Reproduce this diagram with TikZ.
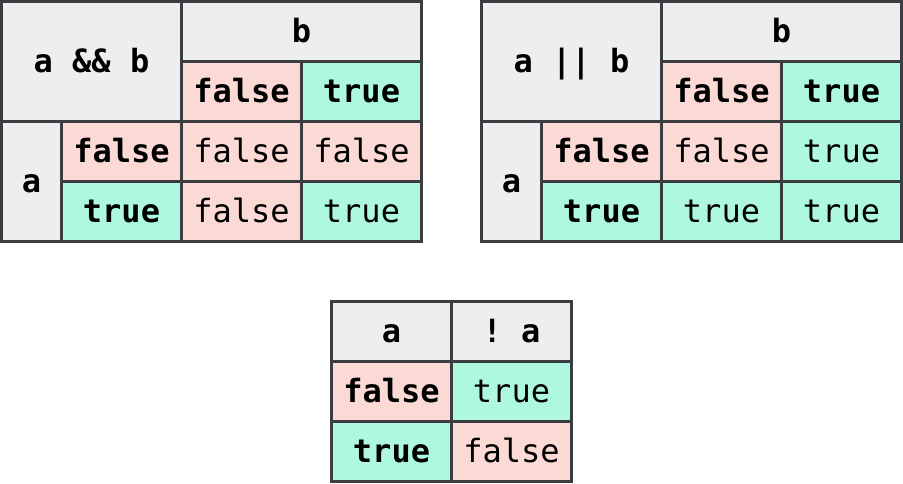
\documentclass[tikz,border=0pt]{standalone}
\usepackage{fontspec}
\setmonofont{DejaVu Sans Mono}
\definecolor{gridline}{HTML}{3B3D42}
\definecolor{hdrgrey}{HTML}{EEEEEE}
\definecolor{fpink}{HTML}{FBD9D4}
\definecolor{tmint}{HTML}{AEF8DF}
\tikzset{
  cellbox/.style={draw=gridline, line width=3pt, inner sep=0pt, outer sep=0pt,
    text height=24pt, text depth=3pt,
    anchor=north west, font=\ttfamily\fontsize{32}{38}\selectfont, text=black},
  hd/.style={cellbox, fill=hdrgrey, font=\ttfamily\bfseries\fontsize{32}{38}\selectfont},
  fb/.style={cellbox, fill=fpink, font=\ttfamily\bfseries\fontsize{32}{38}\selectfont},
  tb/.style={cellbox, fill=tmint, font=\ttfamily\bfseries\fontsize{32}{38}\selectfont},
  fv/.style={cellbox, fill=fpink},
  tv/.style={cellbox, fill=tmint}
}
\newcommand\tcell[7]{\node[#6, minimum width=#4pt, minimum height=#5pt] (#1) at (#2,#3) {#7};}
\begin{document}
\begin{tikzpicture}[x=1pt,y=-1pt]
\useasboundingbox (0,0) rectangle (903,483);
% AND table
\tcell{andh}{1.5}{1.5}{180}{120}{hd}{a \&\& b}
\tcell{andb}{181.5}{1.5}{240}{60}{hd}{b}
\tcell{andbf}{181.5}{61.5}{120}{60}{fb}{false}
\tcell{andbt}{301.5}{61.5}{120}{60}{tb}{true}
\tcell{anda}{1.5}{121.5}{60}{120}{hd}{a}
\tcell{andaf}{61.5}{121.5}{120}{60}{fb}{false}
\tcell{andat}{61.5}{181.5}{120}{60}{tb}{true}
\tcell{andff}{181.5}{121.5}{120}{60}{fv}{false}
\tcell{andft}{301.5}{121.5}{120}{60}{fv}{false}
\tcell{andtf}{181.5}{181.5}{120}{60}{fv}{false}
\tcell{andtt}{301.5}{181.5}{120}{60}{tv}{true}
% OR table
\tcell{orh}{481.5}{1.5}{180}{120}{hd}{a || b}
\tcell{orb}{661.5}{1.5}{240}{60}{hd}{b}
\tcell{orbf}{661.5}{61.5}{120}{60}{fb}{false}
\tcell{orbt}{781.5}{61.5}{120}{60}{tb}{true}
\tcell{ora}{481.5}{121.5}{60}{120}{hd}{a}
\tcell{oraf}{541.5}{121.5}{120}{60}{fb}{false}
\tcell{orat}{541.5}{181.5}{120}{60}{tb}{true}
\tcell{orff}{661.5}{121.5}{120}{60}{fv}{false}
\tcell{orft}{781.5}{121.5}{120}{60}{tv}{true}
\tcell{ortf}{661.5}{181.5}{120}{60}{tv}{true}
\tcell{ortt}{781.5}{181.5}{120}{60}{tv}{true}
% NOT table
\tcell{nota}{331.5}{301.5}{120}{60}{hd}{a}
\tcell{notn}{451.5}{301.5}{120}{60}{hd}{! a}
\tcell{notaf}{331.5}{361.5}{120}{60}{fb}{false}
\tcell{notvt}{451.5}{361.5}{120}{60}{tv}{true}
\tcell{notat}{331.5}{421.5}{120}{60}{tb}{true}
\tcell{notvf}{451.5}{421.5}{120}{60}{fv}{false}
\end{tikzpicture}
\end{document}
